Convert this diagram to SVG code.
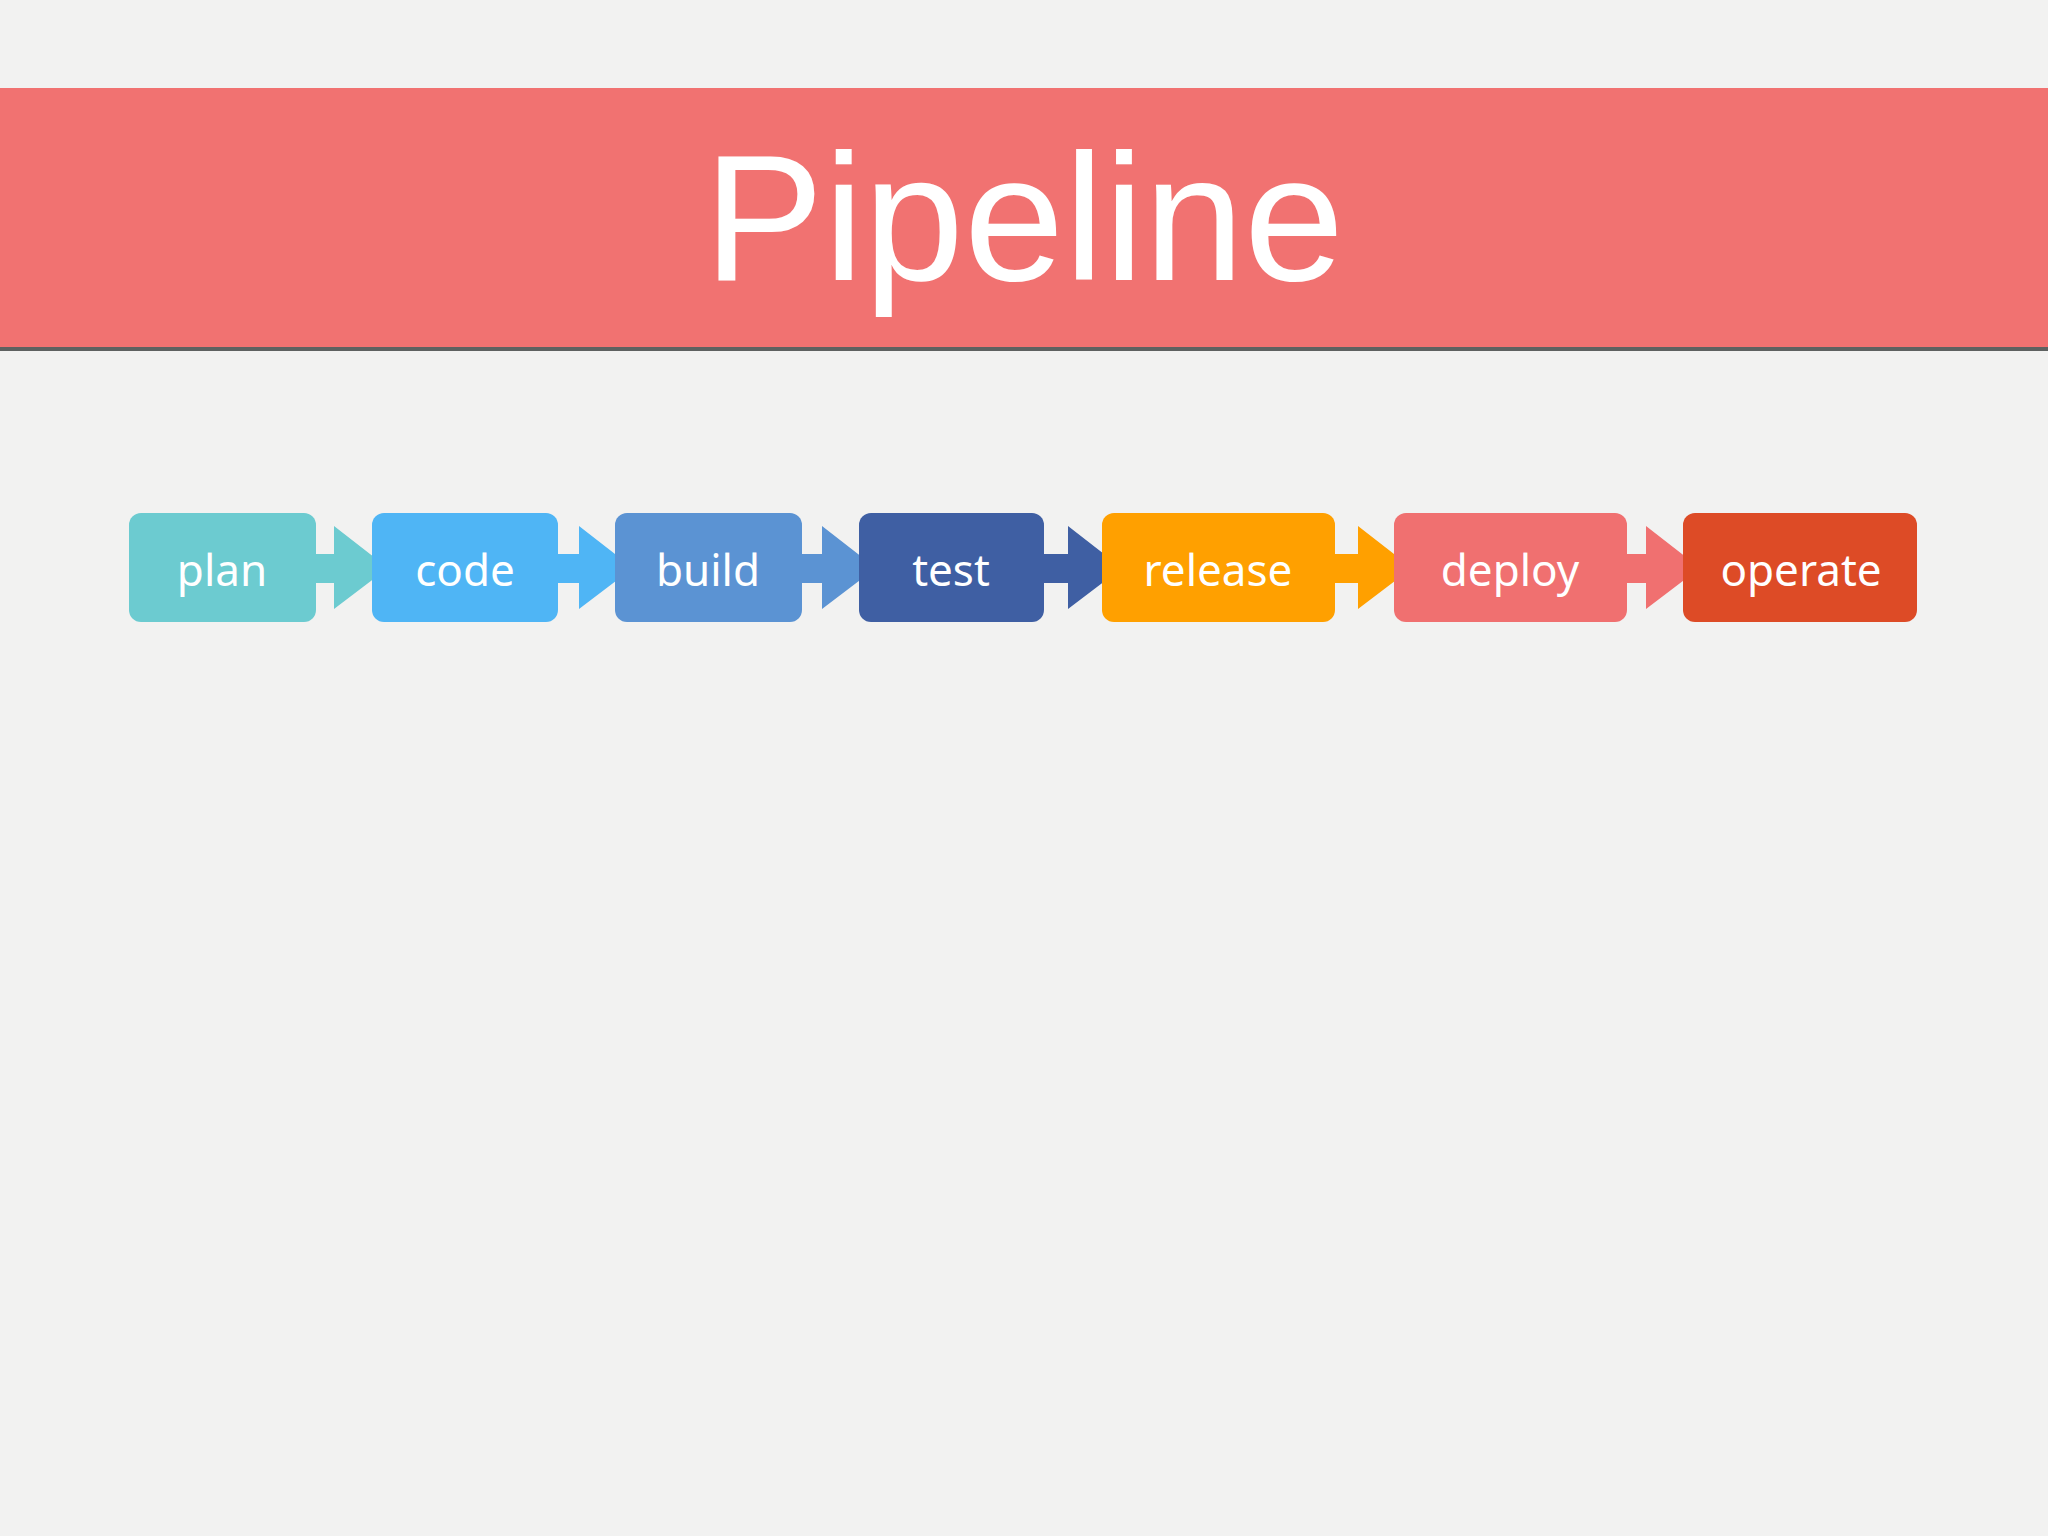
<svg xmlns="http://www.w3.org/2000/svg" width="2048" height="1536" viewBox="0 0 2048 1536">
<style>
.lbl{font-family:"Noto Sans","DejaVu Sans",sans-serif;font-size:44px;fill:#fff;text-anchor:middle;dominant-baseline:central}
</style>
<rect width="2048" height="1536" fill="#F2F2F1"/>
<rect x="0" y="88" width="2048" height="261" fill="#F17271"/>
<rect x="0" y="347" width="2048" height="4" fill="#5E6160"/>
<text x="1024" y="280" font-family="Liberation Sans,Arial,sans-serif" font-size="180" fill="#fff" text-anchor="middle">Pipeline</text>
<g id="connectors">
<path d="M316 554H334V526L388 568L334 609V583H316Z" fill="#6CCBD0"/>
<path d="M558 554H579V526L633 568L579 609V583H558Z" fill="#4FB5F5"/>
<path d="M802 554H822V526L876 568L822 609V583H802Z" fill="#5B93D3"/>
<path d="M1044 554H1068V526L1122 568L1068 609V583H1044Z" fill="#3F5FA3"/>
<path d="M1335 554H1358V526L1412 568L1358 609V583H1335Z" fill="#FFA000"/>
<path d="M1627 554H1646V526L1700 568L1646 609V583H1627Z" fill="#F07070"/>
</g>
<g id="plan"><rect x="129" y="513" width="187" height="109" rx="12" fill="#6CCBD0"/><text class="lbl" x="222" y="569">plan</text></g>
<g id="code"><rect x="372" y="513" width="186" height="109" rx="12" fill="#4FB5F5"/><text class="lbl" x="465" y="569">code</text></g>
<g id="build"><rect x="615" y="513" width="187" height="109" rx="12" fill="#5B93D3"/><text class="lbl" x="708" y="569">build</text></g>
<g id="test"><rect x="859" y="513" width="185" height="109" rx="12" fill="#3F5FA3"/><text class="lbl" x="951" y="569">test</text></g>
<g id="release"><rect x="1102" y="513" width="233" height="109" rx="12" fill="#FFA000"/><text class="lbl" x="1218" y="569">release</text></g>
<g id="deploy"><rect x="1394" y="513" width="233" height="109" rx="12" fill="#F07070"/><text class="lbl" x="1510" y="569">deploy</text></g>
<g id="operate"><rect x="1683" y="513" width="234" height="109" rx="12" fill="#DD4B26"/><text class="lbl" x="1801" y="569">operate</text></g>
</svg>
